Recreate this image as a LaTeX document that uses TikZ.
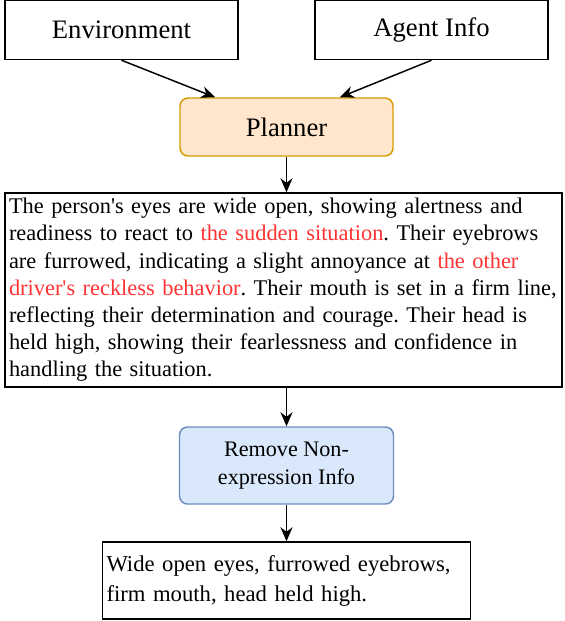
\documentclass[tikz,border=0pt]{standalone}
\usepackage{fontspec}
\setmainfont{Liberation Serif}[Ligatures=TeXOff]
\usetikzlibrary{arrows.meta}

\definecolor{plannerfill}{HTML}{FFE6CC}
\definecolor{plannerdraw}{HTML}{D79B00}
\definecolor{removefill}{HTML}{DAE8FC}
\definecolor{removedraw}{HTML}{6C8EBF}
\definecolor{hlred}{HTML}{FF3333}
\frenchspacing

\begin{document}
\begin{tikzpicture}[x=0.75pt,y=-0.75pt,>={Stealth[length=10.5pt,width=9pt]},line width=1.1pt,
  every node/.style={draw, inner sep=3.75pt, font=\fontsize{16.8}{20.4}\selectfont},
  inputbox/.style={font=\fontsize{20}{24}\selectfont, minimum width=174.75pt, minimum height=44.25pt},
  stepnode/.style={rounded corners=6pt, align=center}]

\useasboundingbox (0,0) rectangle (564,621);

% define the inputs
  \node[inputbox] (env)   at (121.5,30) {Environment};
  \node[inputbox] (agent) at (431.5,30) {Agent Info};

% the processing steps
  \node[stepnode, fill=plannerfill, draw=plannerdraw, font=\fontsize{20}{24}\selectfont,
        minimum width=159.75pt, minimum height=43.5pt] (plan) at (286.5,127) {Planner};
  \node[text width=411.75pt, align=left, inner xsep=3pt, minimum height=145.5pt] (desc) at (283.5,290)
{The person's eyes are wide open, showing alertness and\\
readiness to react to \textcolor{hlred}{the sudden situation}. Their eyebrows\\
are furrowed, indicating a slight annoyance at \textcolor{hlred}{the other}\\
\textcolor{hlred}{driver's reckless behavior}. Their mouth is set in a firm line,\\
reflecting their determination and courage. Their head is\\
held high, showing their fearlessness and confidence in\\
handling the situation.};
  \node[stepnode, fill=removefill, draw=removedraw, font=\fontsize{16.6}{21}\selectfont,
        minimum width=160.5pt, minimum height=57.75pt] (remove) at (286.5,465.5)
{Remove Non-\\expression Info};
  \node[text width=270pt, align=left, inner xsep=3pt, minimum height=57.75pt,
        font=\fontsize{17}{22.5}\selectfont] (result) at (286.5,580.5)
{Wide open eyes, furrowed eyebrows,\\
firm mouth, head held high.};

% define the links
  \draw[->] (env.south) -- ([xshift=-53.6pt]plan.north);
  \draw[->] (agent.south) -- ([xshift=40.1pt]plan.north);
  \draw[->] (plan.south) -- (plan.south |- desc.north);
  \draw[->] (desc.south -| remove.north) -- (remove.north);
  \draw[->] (remove.south) -- (result.north);

\end{tikzpicture}
\end{document}
